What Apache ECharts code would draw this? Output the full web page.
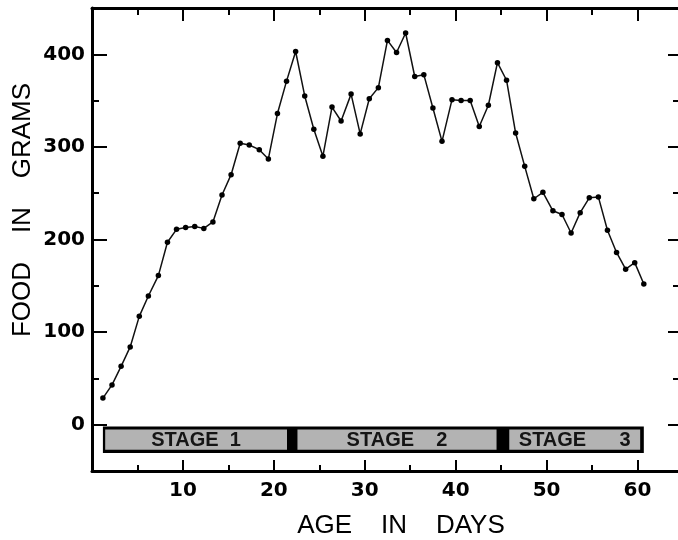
<!DOCTYPE html>
<html>
<head>
<meta charset="utf-8">
<script src="https://cdn.jsdelivr.net/npm/echarts@6/dist/echarts.min.js"></script>
<style>
html,body{margin:0;padding:0;background:#fff;}
#chart{width:678px;height:540px;}
</style>
</head>
<body>
<div id="chart"></div>
<script>
// ---- data ----
const dayPos = [1.2,2.2,3.2,4.2,5.2,6.2,7.3,8.3,9.3,10.3,11.3,12.3,13.3,14.3,15.3,16.3,17.3,18.4,19.4,20.4,
  21.4,22.4,23.4,24.4,25.4,26.4,27.4,28.5,29.5,30.5,31.5,32.5,33.5,34.5,35.5,36.5,37.5,38.5,39.6,40.6,
  41.6,42.6,43.6,44.6,45.6,46.6,47.6,48.6,49.6,50.7,51.7,52.7,53.7,54.7,55.7,56.7,57.7,58.7,59.7,60.7];
const foodGrams = [28.7,43,63,84,117,139,161,197,211,213,214,212,219,248,270,304,302,297,287,336,
  371,403,355,319,290,343,328,357,314,352,364,415,402,423,376,378,342,306,351,350,
  350,322,345,391,372,315,279,244,251,231,227,207,229,245,246,210,186,168,175,152];
const xMajorTicks = [10,20,30,40,50,60];
const xMinorTicks = [5,15,25,35,45,55];
const yMajorTicks = [0,100,200,300,400];
const yMinorTicks = [50,150,250,350];
const stageNames = ['STAGE  1','STAGE    2','STAGE      3'];
const stageStart = [1.45,22.6,45.9];
const stageEnd = [21.45,44.5,60.3];
const stageBarSpan = [1.2,60.7];
const xTitle = 'AGE    IN    DAYS';
const yTitle = 'FOOD    IN    GRAMS';

const seriesData = dayPos.map((d,i)=>[d, foodGrams[i]]);
const stageData = stageNames.map((n,i)=>[stageStart[i], stageEnd[i], i]);

const BAR_TOP = -2, BAR_BOT = -30.6, GRAY_TOP = -5.3, GRAY_BOT = -27;

function xAx(pos, major, len, showLine, showLabel){
  return {
    type:'value', min:0, max:64.9, position:pos,
    axisLine:{show:showLine, onZero:false, lineStyle:{color:'#000', width:3}},
    axisTick:{show:true, inside:true, length:len, lineStyle:{color:'#000', width:2},
      customValues: major ? xMajorTicks : xMinorTicks},
    axisLabel:{show:showLabel, customValues:xMajorTicks, margin:10, color:'#000',
      fontFamily:'DejaVu Sans', fontWeight:'bold', fontSize:20},
    splitLine:{show:false}
  };
}
function yAx(pos, major, len, showLine, showLabel){
  return {
    type:'value', min:-50, max:450, position:pos,
    axisLine:{show:showLine, onZero:false, lineStyle:{color:'#000', width:3}},
    axisTick:{show:true, inside:true, length:len, lineStyle:{color:'#000', width:2},
      customValues: major ? yMajorTicks : yMinorTicks},
    axisLabel:{show:showLabel, customValues:yMajorTicks, margin:7, color:'#000',
      fontFamily:'DejaVu Sans', fontWeight:'bold', fontSize:20},
    splitLine:{show:false}
  };
}

const chart = echarts.init(document.getElementById('chart'), null, {renderer:'canvas'});
chart.setOption({
  animation:false,
  backgroundColor:'#fff',
  grid:{left:92, top:8, width:590, height:463, containLabel:false, outerBoundsMode:'none'},
  xAxis:[
    xAx('bottom', true, 11, true, true),
    xAx('bottom', false, 6, false, false),
    xAx('top', true, 13, true, false),
    xAx('top', false, 7, false, false)
  ],
  yAxis:[
    yAx('left', true, 15, true, true),
    yAx('left', false, 7, false, false),
    yAx('right', true, 14, true, false),
    yAx('right', false, 9, false, false)
  ],
  graphic:[
    {type:'text', x:401, y:526, style:{text:xTitle, textAlign:'center', textVerticalAlign:'middle',
      fontFamily:'Liberation Sans', fontSize:26, fill:'#000'}},
    {type:'text', x:23, y:210, rotation:Math.PI/2, style:{text:yTitle, textAlign:'center', textVerticalAlign:'middle',
      fontFamily:'Liberation Sans', fontSize:26, fill:'#000'}}
  ],
  series:[
    {
      type:'custom', xAxisIndex:0, yAxisIndex:0, silent:true, z:1,
      data:[stageBarSpan],
      renderItem:function(params, api){
        const p0 = api.coord([api.value(0), BAR_TOP]);
        const p1 = api.coord([api.value(1), BAR_BOT]);
        return {type:'rect', shape:{x:p0[0], y:p0[1], width:p1[0]-p0[0], height:p1[1]-p0[1]},
          style:{fill:'#000'}};
      }
    },
    {
      type:'custom', xAxisIndex:0, yAxisIndex:0, silent:true, z:2,
      data:stageData,
      renderItem:function(params, api){
        const i = api.value(2);
        const p0 = api.coord([api.value(0), GRAY_TOP]);
        const p1 = api.coord([api.value(1), GRAY_BOT]);
        return {type:'group', children:[
          {type:'rect', shape:{x:p0[0], y:p0[1], width:p1[0]-p0[0], height:p1[1]-p0[1]},
            style:{fill:'#b3b3b3'}},
          {type:'text', x:(p0[0]+p1[0])/2, y:(p0[1]+p1[1])/2+1,
            style:{text:stageNames[i], textAlign:'center', textVerticalAlign:'middle',
              fontFamily:'Liberation Sans', fontWeight:'bold', fontSize:20, fill:'#151515'}}
        ]};
      }
    },
    {
      type:'line', xAxisIndex:0, yAxisIndex:0, z:5,
      data:seriesData,
      symbol:'circle', symbolSize:5.5, showSymbol:true,
      lineStyle:{color:'#111', width:1.5},
      itemStyle:{color:'#000'}
    }
  ]
});
</script>
</body>
</html>
